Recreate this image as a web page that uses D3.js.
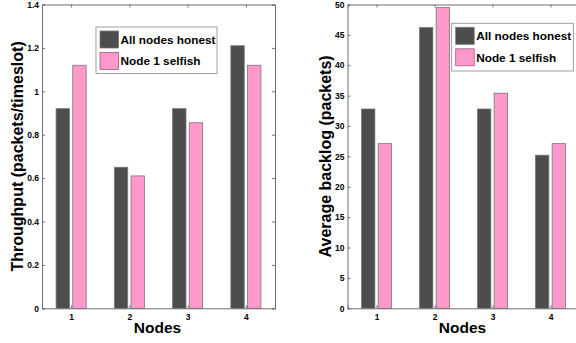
<!DOCTYPE html>
<html><head><meta charset="utf-8">
<script src="https://cdn.jsdelivr.net/npm/d3@7"></script>
<style>body{margin:0;background:#fff}svg{display:block}text{font-family:"Liberation Sans",Arial,sans-serif;font-weight:bold}</style>
</head><body>
<svg id="c" width="576" height="343"></svg>
<script>
const nodes = [1, 2, 3, 4];
const seriesNames = ["All nodes honest", "Node 1 selfish"];
const throughputHonest = [0.92, 0.65, 0.92, 1.21];
const throughputSelfish = [1.12, 0.61, 0.855, 1.12];
const backlogHonest = [32.8, 46.2, 32.8, 25.2];
const backlogSelfish = [27.1, 49.5, 35.4, 27.1];
const throughputTicks = [0, 0.2, 0.4, 0.6, 0.8, 1, 1.2, 1.4];
const backlogTicks = [0, 5, 10, 15, 20, 25, 30, 35, 40, 45, 50];

const colors = ["#4d4d4d", "#ff99cc"];
const svg = d3.select("#c");

function panel(o) {
  const x = d3.scaleLinear().domain([0.5, 4.5]).range([o.x0, o.x1]);
  const y = d3.scaleLinear().domain(o.domain).range([o.y1, o.y0]);
  const g = svg.append("g");
  const bw = 0.23, off = 0.143;
  [o.a, o.b].forEach((vals, si) => {
    g.selectAll(null).data(nodes).enter().append("rect")
      .attr("x", d => x(d + (si === 0 ? -off : off) - bw / 2))
      .attr("width", x(bw) - x(0))
      .attr("y", (d, i) => y(vals[i]))
      .attr("height", (d, i) => y(0) - y(vals[i]))
      .attr("fill", colors[si]).attr("stroke", "#777").attr("stroke-width", 0.8);
  });
  const ax = g.append("g").attr("transform", `translate(${o.x0},0)`).call(
    d3.axisLeft(y).tickValues(o.ticks).tickSize(-3).tickPadding(3).tickFormat(d3.format("")));
  const axR = g.append("g").attr("transform", `translate(${o.x1},0)`).call(
    d3.axisRight(y).tickValues(o.ticks).tickSize(-3).tickFormat(""));
  const axB = g.append("g").attr("transform", `translate(0,${o.y1})`).call(
    d3.axisBottom(x).tickValues(nodes).tickSize(-3).tickPadding(6).tickFormat(d3.format("d")));
  const axT = g.append("g").attr("transform", `translate(0,${o.y0})`).call(
    d3.axisTop(x).tickValues(nodes).tickSize(-3).tickFormat(""));
  [ax, axR, axB, axT].forEach(a => {
    a.select(".domain").attr("stroke", "#6f6f6f");
    a.selectAll(".tick line").attr("stroke", "#6f6f6f");
    a.selectAll("text").attr("font-size", 8.5).attr("fill", "#000");
  });
  g.append("text").attr("transform", `translate(${o.ylx},${(o.y0 + o.y1) / 2}) rotate(-90)`)
    .attr("text-anchor", "middle").attr("dy", "0.35em").attr("font-size", 16).text(o.ylabel);
  g.append("text").attr("x", (o.x0 + o.x1) / 2 - 1).attr("y", 333)
    .attr("text-anchor", "middle").attr("font-size", 15.5).text("Nodes");
  const L = o.leg;
  g.append("rect").attr("x", L.x).attr("y", L.y).attr("width", L.w).attr("height", L.h)
    .attr("fill", "#fff").attr("stroke", "#888").attr("stroke-width", 0.8);
  seriesNames.forEach((s, i) => {
    const yy = L.y + 4 + i * 21.5;
    g.append("rect").attr("x", L.x + 4).attr("y", yy).attr("width", 18.5).attr("height", 17)
      .attr("fill", colors[i]).attr("stroke", i === 0 ? "#777" : "#a05a80").attr("stroke-width", 0.8);
    g.append("text").attr("x", L.x + 24.5).attr("y", yy + 8.5).attr("dy", "0.36em")
      .attr("font-size", 11.8).text(s);
  });
}

panel({x0: 42, x1: 275, y0: 4.5, y1: 308.3, domain: [0, 1.4], ticks: throughputTicks,
  a: throughputHonest, b: throughputSelfish, ylabel: "Throughput (packets/timeslot)", ylx: 17,
  leg: {x: 96, y: 27, w: 121, h: 46.5}});
panel({x0: 347.5, x1: 579.5, y0: 4.5, y1: 308.3, domain: [0, 50], ticks: backlogTicks,
  a: backlogHonest, b: backlogSelfish, ylabel: "Average backlog (packets)", ylx: 325,
  leg: {x: 451.7, y: 23.3, w: 121.6, h: 47.7}});
</script>
</body></html>
